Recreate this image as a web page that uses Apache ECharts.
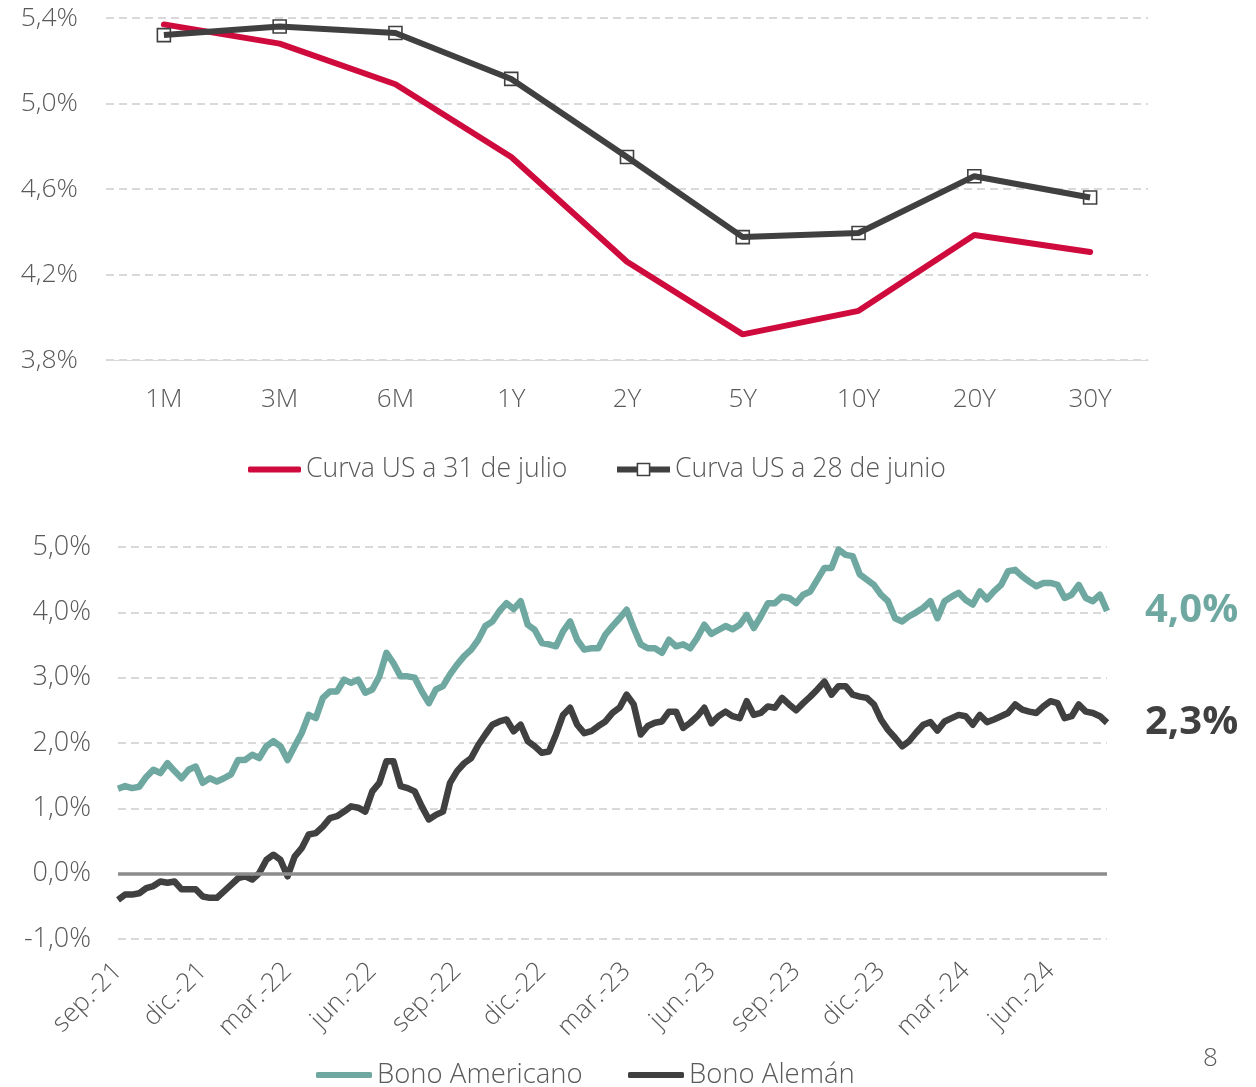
<!DOCTYPE html>
<html>
<head>
<meta charset="utf-8">
<script src="https://cdn.jsdelivr.net/npm/echarts@6/dist/echarts.min.js"></script>
<style>
html,body{margin:0;padding:0;background:#fff;}
#c{width:1256px;height:1087px;}
</style>
</head>
<body>
<div id="c"></div>
<script>
// ---- Top chart: US yield curve ----
const curveCategories = ['1M','3M','6M','1Y','2Y','5Y','10Y','20Y','30Y'];
const curveJulio = [5.37, 5.28, 5.09, 4.75, 4.26, 3.92, 4.03, 4.385, 4.305];
const curveJunio = [5.32, 5.36, 5.33, 5.115, 4.75, 4.375, 4.394, 4.66, 4.56];

// ---- Bottom chart: 10Y yields, weekly samples (index = weeks from start of sep-21) ----
const dateTickLabels = ['sep.-21','dic.-21','mar.-22','jun.-22','sep.-22','dic.-22','mar.-23','jun.-23','sep.-23','dic.-23','mar.-24','jun.-24'];
const bonoAmericano = [
 1.30,1.34,1.31,1.33,1.48,1.59,1.54,1.69,1.57,1.46,1.59,1.64,
 1.39,1.46,1.41,1.46,1.52,1.74,1.74,1.82,1.77,1.95,2.03,1.95,
 1.74,1.95,2.15,2.43,2.38,2.69,2.79,2.79,2.97,2.92,2.97,2.77,
 2.82,3.02,3.38,3.22,3.02,3.02,3.00,2.79,2.61,2.82,2.87,3.05,
 3.20,3.33,3.43,3.58,3.79,3.86,4.02,4.14,4.05,4.17,3.81,3.73,
 3.53,3.51,3.48,3.71,3.86,3.58,3.43,3.45,3.45,3.66,3.79,3.91,
 4.04,3.76,3.51,3.45,3.45,3.38,3.58,3.48,3.51,3.45,3.61,3.81,
 3.67,3.73,3.79,3.74,3.81,3.96,3.76,3.94,4.14,4.14,4.24,4.22,
 4.14,4.27,4.32,4.50,4.68,4.68,4.96,4.88,4.86,4.58,4.50,4.42,
 4.27,4.17,3.91,3.86,3.94,4.00,4.07,4.17,3.91,4.17,4.24,4.30,
 4.19,4.12,4.32,4.20,4.32,4.42,4.63,4.65,4.55,4.47,4.40,4.45,
 4.45,4.42,4.22,4.27,4.42,4.22,4.17,4.27,4.02
];
const bonoAleman = [
 -0.40,-0.32,-0.32,-0.30,-0.22,-0.19,-0.12,-0.14,-0.12,-0.24,-0.24,-0.24,
 -0.35,-0.37,-0.37,-0.27,-0.17,-0.07,-0.04,-0.09,0.01,0.21,0.29,0.21,
 -0.04,0.26,0.39,0.60,0.62,0.72,0.85,0.88,0.95,1.03,1.01,0.95,
 1.26,1.39,1.72,1.72,1.34,1.31,1.26,1.03,0.83,0.90,0.95,1.39,
 1.57,1.69,1.77,1.97,2.13,2.28,2.33,2.36,2.18,2.28,2.03,1.95,
 1.85,1.87,2.13,2.43,2.54,2.28,2.15,2.18,2.26,2.33,2.46,2.54,
 2.74,2.59,2.13,2.26,2.31,2.33,2.48,2.48,2.23,2.31,2.41,2.54,
 2.30,2.41,2.48,2.41,2.38,2.64,2.43,2.46,2.56,2.54,2.69,2.59,
 2.50,2.61,2.71,2.82,2.94,2.74,2.87,2.87,2.74,2.71,2.69,2.59,
 2.36,2.20,2.08,1.95,2.03,2.16,2.28,2.32,2.19,2.33,2.38,2.43,
 2.41,2.28,2.43,2.32,2.36,2.41,2.46,2.59,2.51,2.48,2.46,2.56,
 2.64,2.61,2.38,2.41,2.59,2.48,2.46,2.41,2.31
];
const weeksPerTick = 12;

const FONT = '"Open Sans", "Noto Sans", sans-serif';
const TXT = '#595959';
const RED = '#CF0A3C';
const DARK = '#404040';
const TEAL = '#6FA8A0';
const pct1 = v => v.toFixed(1).replace('.', ',') + '%';

const chart = echarts.init(document.getElementById('c'), null, {renderer: 'canvas'});
const gridSplit = {show: true, lineStyle: {color: '#d9d9d9', width: 2, type: [8, 5]}};
const legendText = size => ({fontFamily: FONT, fontWeight: 300, fontSize: size, color: TXT});
const barIcon = 'roundRect';
const lineSquareIcon = 'path://M0,4 L20,4 L20,10 L0,10 Z M34,4 L54,4 L54,10 L34,10 Z ' +
  'M20,0 L34,0 L34,14 L20,14 Z M21.6,1.6 L21.6,12.4 L32.4,12.4 L32.4,1.6 Z';

chart.setOption({
  animation: false,
  backgroundColor: '#fff',
  textStyle: {fontFamily: FONT},
  grid: [
    {left: 106, right: 108, top: 18, bottom: 727},
    {left: 118, right: 149, top: 547, bottom: 148}
  ],
  legend: [
    {data: ['Curva US a 31 de julio'], left: 243, top: 451, icon: barIcon,
     itemWidth: 53, itemHeight: 6, itemStyle: {color: RED, borderWidth: 0}, textStyle: legendText(26.6)},
    {data: ['Curva US a 28 de junio'], left: 612, top: 451, icon: lineSquareIcon,
     itemWidth: 53, itemHeight: 14, itemStyle: {color: DARK, borderWidth: 0}, textStyle: legendText(26.6)},
    {data: ['Bono Americano'], left: 311, top: 1056, icon: barIcon,
     itemWidth: 56, itemHeight: 6, itemStyle: {color: TEAL, borderWidth: 0}, textStyle: legendText(27.5)},
    {data: ['Bono Alemán'], left: 623, top: 1056, icon: barIcon,
     itemWidth: 56, itemHeight: 6, itemStyle: {color: DARK, borderWidth: 0}, textStyle: legendText(27.5)}
  ],
  xAxis: [
    {
      gridIndex: 0, type: 'category', data: curveCategories, boundaryGap: true,
      axisLine: {show: true, lineStyle: {color: '#d9d9d9', width: 1}},
      axisTick: {show: false},
      axisLabel: {fontFamily: FONT, fontWeight: 300, fontSize: 26, color: TXT, margin: 27}
    },
    {
      gridIndex: 1, type: 'value', min: 0, max: bonoAmericano.length - 1, interval: weeksPerTick,
      axisLine: {show: false}, axisTick: {show: false}, splitLine: {show: false},
      axisLabel: {
        fontFamily: FONT, fontWeight: 300, fontSize: 26, color: TXT, rotate: 45, margin: 28,
        showMaxLabel: false,
        formatter: v => (v % weeksPerTick === 0 && dateTickLabels[v / weeksPerTick]) ? dateTickLabels[v / weeksPerTick] : ''
      }
    }
  ],
  yAxis: [
    {
      gridIndex: 0, type: 'value', min: 3.8, max: 5.4, interval: 0.4,
      axisLine: {show: false}, axisTick: {show: false},
      splitLine: gridSplit,
      axisLabel: {fontFamily: FONT, fontWeight: 300, fontSize: 26.5, color: TXT, margin: 28, formatter: pct1}
    },
    {
      gridIndex: 1, type: 'value', min: -1, max: 5, interval: 1,
      axisLine: {show: false}, axisTick: {show: false},
      splitLine: gridSplit,
      axisLabel: {fontFamily: FONT, fontWeight: 300, fontSize: 27, color: TXT, margin: 27, formatter: pct1}
    }
  ],
  series: [
    {
      name: 'Curva US a 31 de julio', type: 'line', xAxisIndex: 0, yAxisIndex: 0,
      data: curveJulio, symbol: 'none',
      lineStyle: {color: RED, width: 6, cap: 'round'}, itemStyle: {color: RED}, z: 3
    },
    {
      name: 'Curva US a 28 de junio', type: 'line', xAxisIndex: 0, yAxisIndex: 0,
      data: curveJunio, symbol: 'rect', symbolSize: 13, showAllSymbol: true,
      lineStyle: {color: DARK, width: 6},
      itemStyle: {color: 'rgba(255,255,255,0)', borderColor: DARK, borderWidth: 1.6}, z: 4
    },
    {
      name: 'Bono Americano', type: 'line', xAxisIndex: 1, yAxisIndex: 1,
      data: bonoAmericano.map((v, i) => [i, v]), symbol: 'none',
      lineStyle: {color: TEAL, width: 6.5, join: 'round'}, itemStyle: {color: TEAL},
      markLine: {
        silent: true, symbol: 'none', label: {show: false},
        lineStyle: {color: '#8c8c8c', width: 3.5, type: 'solid'},
        data: [{yAxis: 0}]
      },
      endLabel: {
        show: true, distance: 38, fontFamily: FONT, fontWeight: 'bold', fontSize: 40, color: TEAL,
        formatter: p => pct1(p.value[1])
      }
    },
    {
      name: 'Bono Alemán', type: 'line', xAxisIndex: 1, yAxisIndex: 1,
      data: bonoAleman.map((v, i) => [i, v]), symbol: 'none',
      lineStyle: {color: DARK, width: 6.5, join: 'round'}, itemStyle: {color: DARK},
      endLabel: {
        show: true, distance: 38, fontFamily: FONT, fontWeight: 'bold', fontSize: 40, color: DARK,
        formatter: p => pct1(p.value[1])
      }
    }
  ],
  graphic: [
    {type: 'text', left: 1203, top: 1046, style: {text: '8', font: '300 26px ' + FONT, fill: TXT}}
  ]
});
</script>
</body>
</html>
